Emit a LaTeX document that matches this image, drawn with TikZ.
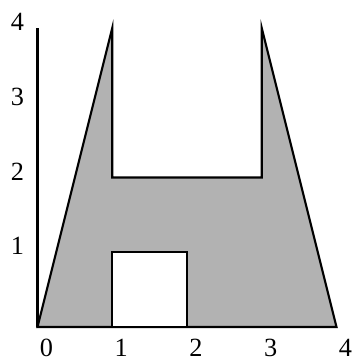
\documentclass[tikz,border=0pt]{standalone}
\usepackage{fontspec}
\setmainfont{Liberation Serif}
\usepackage{tikz}
\usetikzlibrary{positioning}

\begin{document}
\begin{tikzpicture}[every node/.style={font=\fontsize{10}{12}\selectfont, inner sep=0pt}, region/.style={draw=black, line width=0.8pt, line join=miter, fill=black!30}, hole/.style={draw=black, line width=0.8pt, fill=white}, axis/.style={line width=0.8pt}]
\useasboundingbox (-0.502,-0.415) rectangle (4.221,4.375);
\draw[axis] (0,0) -- (0,4);
\draw[region] (0,0) -- (1,4) -- (1,2) -- (3,2) -- (3,4) -- (4,0) -- cycle;
\draw[hole] (1,0) rectangle (2,1);
\foreach \i in {0,...,4} \node (x\i) at (\i+0.12,-0.28) {\i};
\foreach \i in {1,...,4} \node (y\i) at (-0.27,\i+0.08) {\i};
\end{tikzpicture}
\end{document}
